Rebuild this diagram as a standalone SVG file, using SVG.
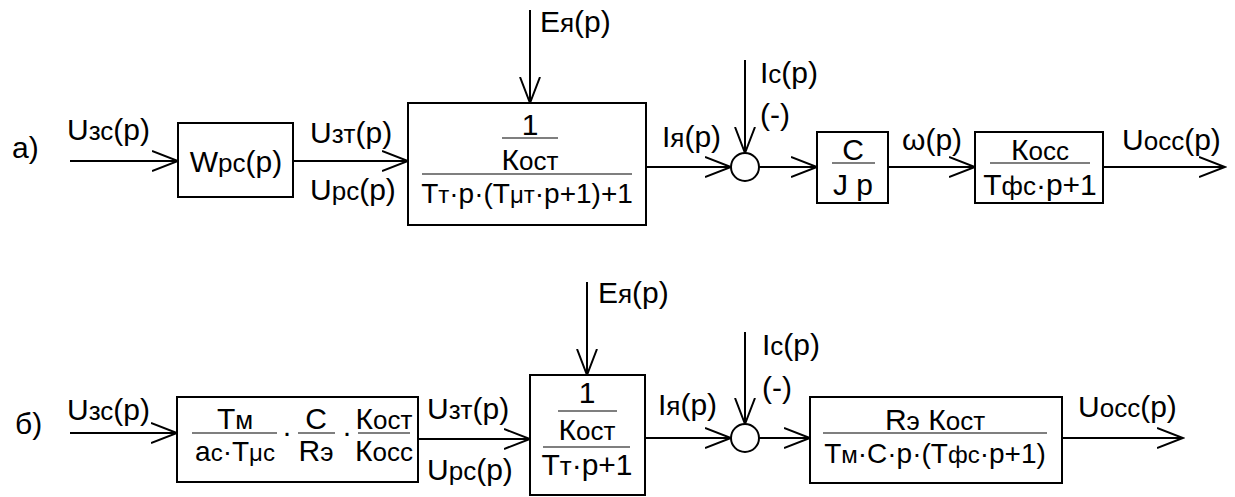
<svg xmlns="http://www.w3.org/2000/svg" width="1235" height="497" viewBox="0 0 1235 497">
<style>
  .t { font-family: "Liberation Sans", Arial, sans-serif; font-size: 30px; fill: #000; }
  .s { font-size: 26px; }
  .d { font-size: 28px; }
  .ds { font-size: 24px; }
  .m { text-anchor: middle; }
  .box { fill: #fff; stroke: #000; stroke-width: 2; }
  .fr { stroke: #555; stroke-width: 1.6; }
  .ln { fill: none; stroke: #000; stroke-width: 2; }
</style>
<defs>
  <marker id="arr" viewBox="0 0 28 22" refX="26" refY="11" markerWidth="28" markerHeight="22" markerUnits="userSpaceOnUse" orient="auto">
    <path d="M0,1 L26,11 L0,21" fill="none" stroke="#000" stroke-width="2"/>
  </marker>
</defs>
<rect width="1235" height="497" fill="#fff"/>

<g id="connectors">
  <!-- row a -->
  <line class="ln" x1="70" y1="161" x2="178" y2="161" marker-end="url(#arr)"/>
  <line class="ln" x1="293" y1="161" x2="408" y2="161" marker-end="url(#arr)"/>
  <line class="ln" x1="530" y1="10" x2="530" y2="103" marker-end="url(#arr)"/>
  <line class="ln" x1="646" y1="167" x2="731" y2="167" marker-end="url(#arr)"/>
  <line class="ln" x1="745" y1="60" x2="745" y2="153" marker-end="url(#arr)"/>
  <line class="ln" x1="759" y1="167" x2="817" y2="167" marker-end="url(#arr)"/>
  <line class="ln" x1="888" y1="167" x2="975" y2="167" marker-end="url(#arr)"/>
  <line class="ln" x1="1103" y1="167" x2="1225" y2="167" marker-end="url(#arr)"/>
  <!-- row b -->
  <line class="ln" x1="70" y1="433" x2="177" y2="433" marker-end="url(#arr)"/>
  <line class="ln" x1="418" y1="439" x2="530" y2="439" marker-end="url(#arr)"/>
  <line class="ln" x1="587" y1="282" x2="587" y2="375" marker-end="url(#arr)"/>
  <line class="ln" x1="645" y1="438" x2="731" y2="438" marker-end="url(#arr)"/>
  <line class="ln" x1="745" y1="332" x2="745" y2="424" marker-end="url(#arr)"/>
  <line class="ln" x1="759" y1="438" x2="810" y2="438" marker-end="url(#arr)"/>
  <line class="ln" x1="1062" y1="438" x2="1183" y2="438" marker-end="url(#arr)"/>
</g>

<g id="labels">
  <text class="t" x="12" y="158">а)</text>
  <text class="t" x="67" y="140">U<tspan class="s">зс</tspan>(р)</text>
  <text class="t" x="310" y="143">U<tspan class="s">зт</tspan>(р)</text>
  <text class="t" x="310" y="200">U<tspan class="s">рс</tspan>(р)</text>
  <text class="t" x="540" y="32">E<tspan class="s">я</tspan>(р)</text>
  <text class="t" x="662" y="147">I<tspan class="s">я</tspan>(р)</text>
  <text class="t" x="760" y="83">I<tspan class="s">c</tspan>(р)</text>
  <text class="t" x="760" y="125">(-)</text>
  <text class="t" x="902" y="150">ω(р)</text>
  <text class="t" x="1122" y="150">U<tspan class="s">осс</tspan>(р)</text>

  <text class="t" x="15" y="434">б)</text>
  <text class="t" x="67" y="420">U<tspan class="s">зс</tspan>(р)</text>
  <text class="t" x="427" y="419">U<tspan class="s">зт</tspan>(р)</text>
  <text class="t" x="427" y="480">U<tspan class="s">рс</tspan>(р)</text>
  <text class="t" x="598" y="303">E<tspan class="s">я</tspan>(р)</text>
  <text class="t" x="658" y="415">I<tspan class="s">я</tspan>(р)</text>
  <text class="t" x="762" y="355">I<tspan class="s">c</tspan>(р)</text>
  <text class="t" x="762" y="398">(-)</text>
  <text class="t" x="1078" y="417">U<tspan class="s">осс</tspan>(р)</text>
</g>

<g id="node-wrc">
  <rect class="box" x="178" y="123" width="115" height="74"/>
  <text class="t m" x="236" y="172">W<tspan class="s">рс</tspan>(р)</text>
</g>

<g id="node-current-a">
  <rect class="box" x="408" y="103" width="238" height="122"/>
  <text class="t m" x="530" y="135">1</text>
  <line class="fr" x1="502" y1="138" x2="558" y2="138"/>
  <text class="t m" x="530" y="170">К<tspan class="s">ост</tspan></text>
  <line class="fr" x1="422" y1="174" x2="632" y2="174"/>
  <text class="t d m" x="527" y="203">Т<tspan class="ds">т</tspan>·р·(Т<tspan class="ds">μт</tspan>·р+1)+1</text>
</g>

<g id="node-sum-a">
  <circle cx="745" cy="167" r="14" fill="#fff" stroke="#000" stroke-width="2"/>
</g>

<g id="node-cjp">
  <rect class="box" x="817" y="132" width="71" height="71"/>
  <text class="t m" x="853" y="160">C</text>
  <line class="fr" x1="832" y1="163" x2="875" y2="163"/>
  <text class="t m" x="853" y="195">J р</text>
</g>

<g id="node-kocc">
  <rect class="box" x="975" y="132" width="128" height="71"/>
  <text class="t m" x="1040" y="160">К<tspan class="s">осс</tspan></text>
  <line class="fr" x1="990" y1="163" x2="1090" y2="163"/>
  <text class="t m" x="1040" y="195">Т<tspan class="s">фс</tspan>·р+1</text>
</g>

<g id="node-reg-b">
  <rect class="box" x="177" y="397" width="241" height="85"/>
  <text class="t m" x="235" y="429">Т<tspan class="s">м</tspan></text>
  <line class="fr" x1="192" y1="433" x2="277" y2="433"/>
  <text class="t d m" x="235" y="461">а<tspan class="ds">с</tspan>·Т<tspan class="ds">μс</tspan></text>
  <text class="t m" x="287" y="442">·</text>
  <text class="t m" x="316" y="429">C</text>
  <line class="fr" x1="298" y1="433" x2="335" y2="433"/>
  <text class="t m" x="316" y="461">R<tspan class="s">э</tspan></text>
  <text class="t m" x="347" y="442">·</text>
  <text class="t m" x="384" y="429">К<tspan class="s">ост</tspan></text>
  <line class="fr" x1="358" y1="433" x2="410" y2="433"/>
  <text class="t m" x="384" y="461">К<tspan class="s">осс</tspan></text>
</g>

<g id="node-current-b">
  <rect class="box" x="530" y="375" width="115" height="120"/>
  <text class="t m" x="587" y="403">1</text>
  <line class="fr" x1="558" y1="411" x2="617" y2="411"/>
  <text class="t m" x="587" y="440">К<tspan class="s">ост</tspan></text>
  <line class="fr" x1="543" y1="447" x2="630" y2="447"/>
  <text class="t m" x="587" y="475">Т<tspan class="s">т</tspan>·р+1</text>
</g>

<g id="node-sum-b">
  <circle cx="745" cy="438" r="14" fill="#fff" stroke="#000" stroke-width="2"/>
</g>

<g id="node-motor-b">
  <rect class="box" x="810" y="397" width="252" height="86"/>
  <text class="t m" x="935" y="430">R<tspan class="s">э</tspan> К<tspan class="s">ост</tspan></text>
  <line class="fr" x1="823" y1="433" x2="1047" y2="433"/>
  <text class="t d m" x="935" y="463">Т<tspan class="ds">м</tspan>·C·р·(Т<tspan class="ds">фс</tspan>·р+1)</text>
</g>
</svg>
